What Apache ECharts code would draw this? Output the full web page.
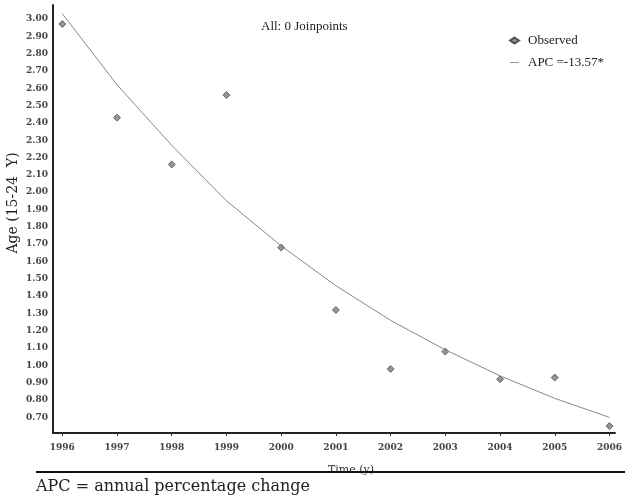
<!DOCTYPE html>
<html>
<head>
<meta charset="utf-8">
<script src="https://cdn.jsdelivr.net/npm/echarts@6/dist/echarts.min.js"></script>
<style>html,body{margin:0;padding:0;background:#fff}#c{width:625px;height:501px}</style>
</head>
<body>
<div id="c"></div>
<script>
var years = [1996,1997,1998,1999,2000,2001,2002,2003,2004,2005,2006];
var observed = [2.97,2.43,2.16,2.56,1.68,1.32,0.98,1.08,0.92,0.93,0.65];
var fitted = [3.03,2.62,2.27,1.95,1.69,1.46,1.26,1.09,0.94,0.81,0.70];
var yTicks = [0.7,0.8,0.9,1.0,1.1,1.2,1.3,1.4,1.5,1.6,1.7,1.8,1.9,2.0,2.1,2.2,2.3,2.4,2.5,2.6,2.7,2.8,2.9,3.0];
var xTicks = years;
var seriesNames = ['Observed','APC =-13.57*'];

var serif = '"DejaVu Serif", serif';
var serif2 = '"Liberation Serif", serif';
var chart = echarts.init(document.getElementById('c'));
chart.setOption({
  animation:false,
  backgroundColor:'#fff',
  grid:{left:53,right:6,top:5,bottom:68},
  xAxis:{type:'value',min:1995.83,max:2006.1,
    axisLine:{lineStyle:{color:'#222',width:2}},
    axisTick:{show:true,customValues:xTicks,length:3,lineStyle:{color:'#333'}},
    axisLabel:{customValues:xTicks,color:'#444',fontFamily:serif,fontSize:9,fontWeight:'bold',margin:10,
      formatter:function(v){return String(v);}},
    splitLine:{show:false}},
  yAxis:{type:'value',min:0.61,max:3.08,
    axisLine:{show:true,lineStyle:{color:'#222',width:2}},
    axisTick:{show:false},
    axisLabel:{customValues:yTicks,color:'#444',fontFamily:serif,fontSize:9,fontWeight:'bold',margin:5,
      formatter:function(v){return v.toFixed(2);}},
    splitLine:{show:false}},
  legend:{orient:'vertical',left:504,top:29,itemGap:9,itemWidth:9,itemHeight:6,
    textStyle:{fontFamily:serif2,fontSize:13,color:'#222',padding:[0,0,0,4]},
    data:[{name:seriesNames[0],icon:'diamond'},{name:seriesNames[1],icon:'path://M0 0H10V1H0Z'}]},
  graphic:[
    {type:'text',left:261,top:20,style:{text:'All: 0 Joinpoints',font:'13px '+serif2,fill:'#222'}},
    {type:'text',x:13,y:203,rotation:Math.PI/2,
      style:{text:'Age (15-24  Y)',font:'14px '+serif,fill:'#222',align:'center',verticalAlign:'middle'}},
    {type:'text',left:328,top:465,style:{text:'Time (y)',font:'11px '+serif,fill:'#333'}},
    {type:'rect',shape:{x:36,y:471,width:589,height:2},style:{fill:'#111'},z:100},
    {type:'text',left:36,top:479,style:{text:'APC = annual percentage change',font:'16px '+serif,fill:'#222'},z:100}
  ],
  series:[
    {name:seriesNames[0],type:'scatter',symbol:'diamond',symbolSize:7,
      itemStyle:{color:'#7a7a7a',borderColor:'#333',borderWidth:0.8},
      data:years.map(function(y,i){return [y,observed[i]];})},
    {name:seriesNames[1],type:'line',symbol:'none',showSymbol:false,
      lineStyle:{color:'#888',width:1},itemStyle:{color:'#888'},
      data:years.map(function(y,i){return [y,fitted[i]];})}
  ]
});
</script>
</body>
</html>
